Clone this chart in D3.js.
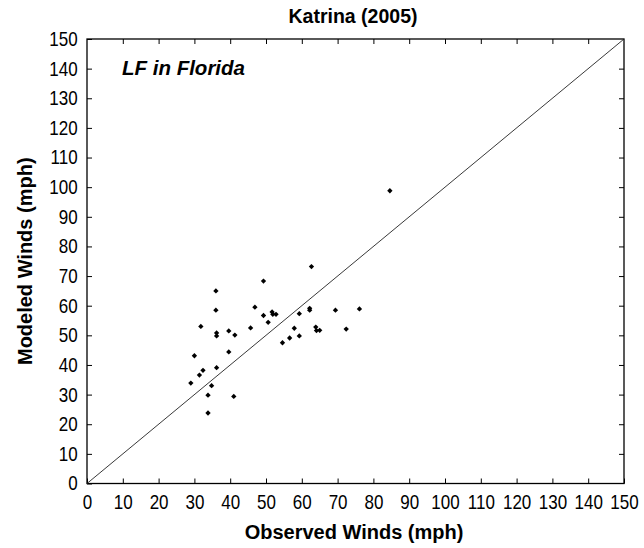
<!DOCTYPE html>
<html><head><meta charset="utf-8">
<script src="https://cdn.jsdelivr.net/npm/d3@7"></script>
<style>body{margin:0;background:#fff}text{font-family:Arial,"Liberation Sans",sans-serif}</style>
</head><body>
<svg id="c" width="644" height="548"></svg>
<script>
const title = "Katrina (2005)";
const annotation = "LF in Florida";
const xLabel = "Observed Winds (mph)";
const yLabel = "Modeled Winds (mph)";
const tickValues = [0,10,20,30,40,50,60,70,80,90,100,110,120,130,140,150];
const observed = [36,36,31.8,36.2,36.2,39.6,41.3,45.7,46.9,49.3,49.3,50.6,39.6,30,32.4,31.4,36.2,29,34.8,33.8,41,33.8,62.7,51.7,51.9,52.8,59.3,62.2,62.2,69.4,76.1,57.9,63.9,64.1,65,72.4,56.6,59.3,54.6,84.6];
const modeled  = [65,58.5,53,50.8,49.8,51.5,50.1,52.5,59.5,68.3,56.7,54.4,44.4,43.1,38.2,36.6,39.1,33.9,33,29.8,29.4,23.8,73.2,57.9,57.1,57.1,57.3,59.1,58.5,58.5,58.9,52.4,52.8,51.6,51.7,52.1,49.1,49.8,47.5,98.8];

const svg = d3.select("#c");
const L=87, R=624, T=39, B=483.5;
const x = d3.scaleLinear().domain([0,150]).range([L,R]);
const y = d3.scaleLinear().domain([0,150]).range([B,T]);

svg.append("rect").attr("x",L).attr("y",T).attr("width",R-L).attr("height",B-T)
  .attr("fill","none").attr("stroke","#000").attr("stroke-width",1.3);

const tk = 5;
const styleAxis = g => { g.select(".domain").remove(); g.selectAll("line").attr("stroke","#000"); };
const styleText = g => g.selectAll("text").attr("font-size",20).attr("fill","#000").attr("transform","scale(0.85,1)");
svg.append("g").attr("transform",`translate(0,${B})`)
  .call(d3.axisBottom(x).tickValues(tickValues).tickSizeInner(-tk).tickSizeOuter(0).tickPadding(11.5))
  .call(styleAxis).call(styleText);
svg.append("g").attr("transform",`translate(0,${T})`)
  .call(d3.axisTop(x).tickValues(tickValues.slice(1,-1)).tickSizeInner(-tk).tickSizeOuter(0).tickFormat(""))
  .call(styleAxis);
svg.append("g").attr("transform",`translate(${L},0)`)
  .call(d3.axisLeft(y).tickValues(tickValues).tickSizeInner(-tk).tickSizeOuter(0).tickPadding(11))
  .call(styleAxis).call(styleText);
svg.append("g").attr("transform",`translate(${R},0)`)
  .call(d3.axisRight(y).tickValues(tickValues.slice(1,-1)).tickSizeInner(-tk).tickSizeOuter(0).tickFormat(""))
  .call(styleAxis);

// 1:1 line
svg.append("line").attr("x1",x(0)).attr("y1",y(0)).attr("x2",x(150)).attr("y2",y(150))
  .attr("stroke","#222").attr("stroke-width",0.9);

// points (small diamonds)
const sym = d3.symbol().type(d3.symbolDiamond2).size(18);
svg.append("g").selectAll("path").data(observed.map((o,i)=>[o,modeled[i]])).join("path")
  .attr("d",sym).attr("transform",d=>`translate(${x(d[0])},${y(d[1])})`).attr("fill","#000");

svg.append("text").attr("x",353).attr("y",23).attr("text-anchor","middle")
  .attr("font-size",19.5).attr("font-weight","bold").text(title);
svg.append("text").attr("x",122).attr("y",75).attr("font-size",20.5)
  .attr("font-weight","bold").attr("font-style","italic").text(annotation);
svg.append("text").attr("x",354).attr("y",539).attr("text-anchor","middle")
  .attr("font-size",20).attr("font-weight","bold").text(xLabel);
svg.append("text").attr("transform",`translate(32,${(T+B)/2}) rotate(-90)`).attr("text-anchor","middle")
  .attr("font-size",20).attr("font-weight","bold").text(yLabel);
</script>
</body></html>
